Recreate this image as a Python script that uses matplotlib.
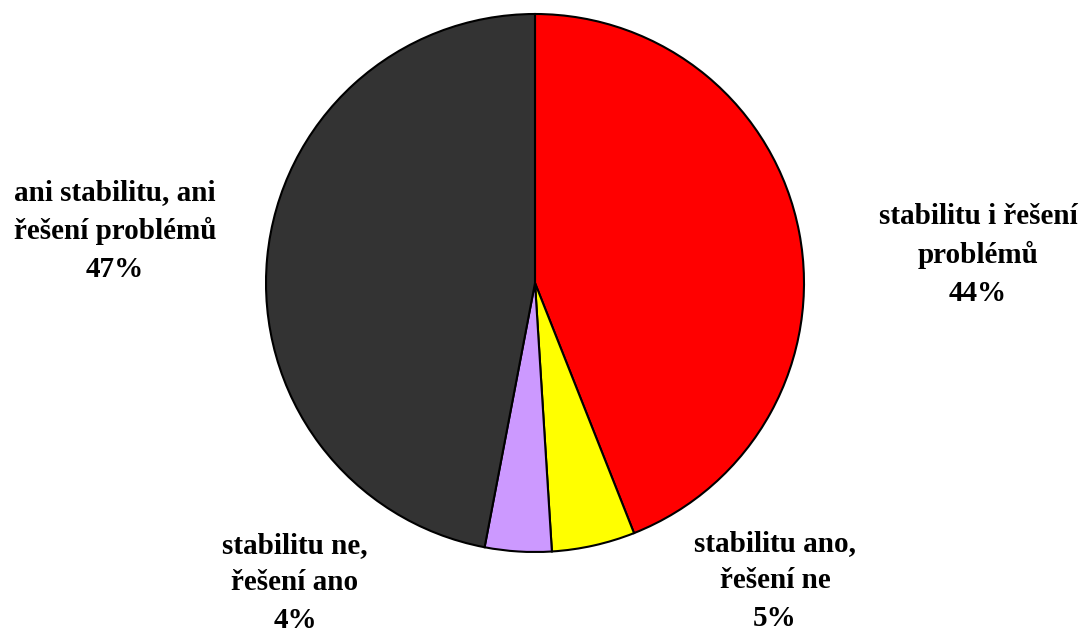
import matplotlib.pyplot as plt

labels = ['stabilitu i řešení\nproblémů', 'stabilitu ano,\nřešení ne',
          'stabilitu ne,\nřešení ano', 'ani stabilitu, ani\nřešení problémů']
shares = [44, 5, 4, 47]
colors = ['#ff0000', '#ffff00', '#cc99ff', '#333333']

# label centres in figure pixels (from the reference)
label_pos = [(978, 255), (775, 581), (295, 583), (115, 231)]

plt.rcParams['font.family'] = ['Liberation Serif', 'DejaVu Serif']

W, H = 1080, 633
fig = plt.figure(figsize=(W / 100, H / 100), dpi=100)
cx, cy, r = 535, 283, 269
ax = fig.add_axes([(cx - r) / W, (H - cy - r) / H, 2 * r / W, 2 * r / H])
ax.pie(shares, colors=colors, startangle=90, counterclock=False,
       wedgeprops=dict(edgecolor='black', linewidth=1.5))
ax.set_xlim(-1, 1)
ax.set_ylim(-1, 1)
ax.axis('off')

for lab, val, (x, y) in zip(labels, shares, label_pos):
    fig.text(x / W, 1 - y / H, f'{lab}\n{val}%', ha='center', va='center',
             fontsize=21, fontweight='bold', linespacing=1.5)

fig.savefig('out.png', dpi=100)
